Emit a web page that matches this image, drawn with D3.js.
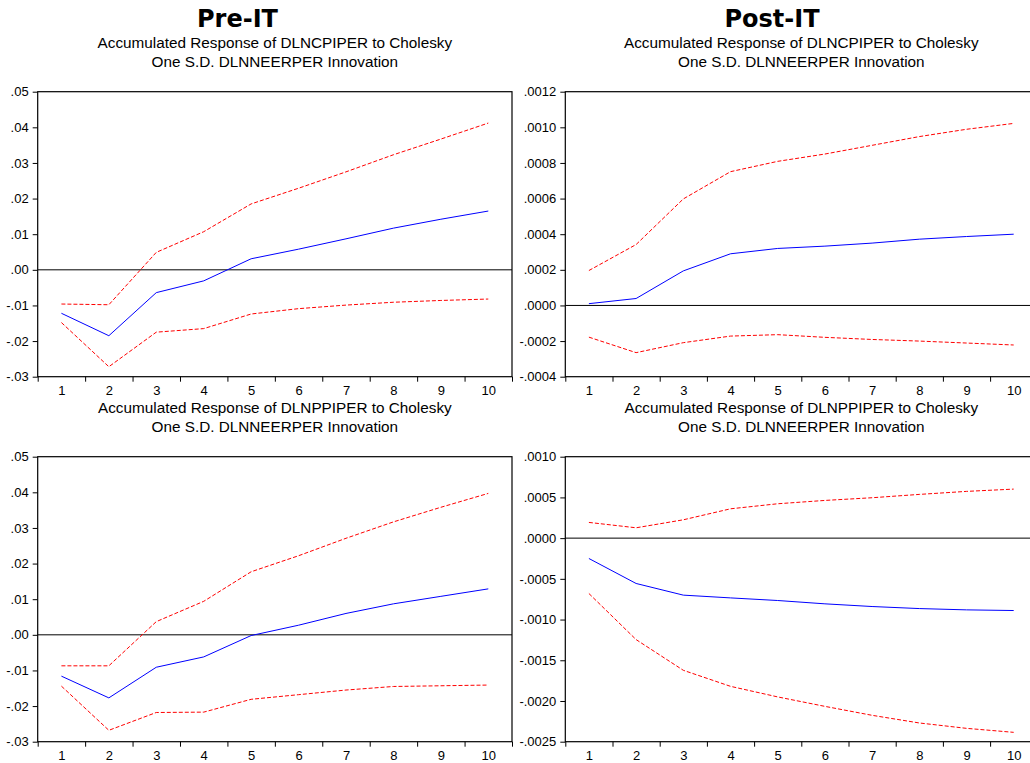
<!DOCTYPE html>
<html>
<head>
<meta charset="utf-8">
<script src="https://cdn.jsdelivr.net/npm/d3@7/dist/d3.min.js"></script>
<style>
  body { margin: 0; background: #ffffff; }
  svg { display: block; font-family: "Liberation Sans", Arial, sans-serif; }
</style>
</head>
<body>
<div id="irf"></div>
<script>
// Horizon (periods after the shock)
const periods = [1, 2, 3, 4, 5, 6, 7, 8, 9, 10];

// Pre-IT, response of DLNCPIPER
const preCpiResponse = [-0.0122, -0.0185, -0.0064, -0.0031, 0.0031, 0.0058, 0.0087, 0.0117, 0.0142, 0.0165];
const preCpiUpper    = [-0.0096, -0.0098, 0.0049, 0.0107, 0.0185, 0.0229, 0.0275, 0.0323, 0.0367, 0.0412];
const preCpiLower    = [-0.0148, -0.0272, -0.0175, -0.0165, -0.0124, -0.0109, -0.0099, -0.0091, -0.0086, -0.0082];

// Pre-IT, response of DLNPPIPER
const prePpiResponse = [-0.0116, -0.0177, -0.0091, -0.0062, -0.0002, 0.0027, 0.0060, 0.0087, 0.0108, 0.0129];
const prePpiUpper    = [-0.0087, -0.0087, 0.0037, 0.0094, 0.0177, 0.0222, 0.0271, 0.0317, 0.0358, 0.0397];
const prePpiLower    = [-0.0144, -0.0268, -0.0218, -0.0217, -0.0181, -0.0168, -0.0155, -0.0145, -0.0143, -0.0141];

// Post-IT, response of DLNCPIPER
const postCpiResponse = [0.00001, 0.000039, 0.000194, 0.00029, 0.00032, 0.000333, 0.00035, 0.000372, 0.000387, 0.0004];
const postCpiUpper    = [0.000196, 0.000342, 0.000598, 0.000751, 0.000809, 0.00085, 0.000899, 0.000948, 0.000989, 0.001022];
const postCpiLower    = [-0.000178, -0.000265, -0.000209, -0.000172, -0.000164, -0.000179, -0.000191, -0.0002, -0.000211, -0.000222];

// Post-IT, response of DLNPPIPER
const postPpiResponse = [-0.00025, -0.000557, -0.0007, -0.000734, -0.000766, -0.000807, -0.00084, -0.000865, -0.000881, -0.000889];
const postPpiUpper    = [0.000193, 0.000127, 0.000225, 0.00036, 0.000422, 0.000463, 0.000496, 0.000537, 0.000574, 0.000602];
const postPpiLower    = [-0.00068, -0.001246, -0.001623, -0.00182, -0.00195, -0.002066, -0.002176, -0.00227, -0.002336, -0.002385];

// Y tick labels
const preTicks     = [-0.03, -0.02, -0.01, 0.00, 0.01, 0.02, 0.03, 0.04, 0.05];
const postCpiTicks = [-0.0004, -0.0002, 0.0000, 0.0002, 0.0004, 0.0006, 0.0008, 0.0010, 0.0012];
const postPpiTicks = [-0.0025, -0.0020, -0.0015, -0.0010, -0.0005, 0.0000, 0.0005, 0.0010];

// Titles
const columnTitles = ["Pre-IT", "Post-IT"];
const cpiTitle = ["Accumulated Response of DLNCPIPER to Cholesky", "One S.D. DLNNEERPER Innovation"];
const ppiTitle = ["Accumulated Response of DLNPPIPER to Cholesky", "One S.D. DLNNEERPER Innovation"];


const width = 1030;
const height = 763;

const svg = d3.select("#irf")
  .append("svg")
    .attr("width", width)
    .attr("height", height)
    .attr("viewBox", `0, 0, ${width}, ${height}`);

// strip the leading zero the way EViews prints it (.05, -.03)
const eviewsFormat = digits => v => v.toFixed(digits).replace("0.", ".");

const drawPanel = (p) => {

  /****************************/
  /*    Declare the scales    */
  /****************************/
  const xScale = d3.scaleLinear()
    .domain([0.5, 10.5])
    .range([p.left, p.left + p.width]);

  const yScale = d3.scaleLinear()
    .domain([p.ticks[0], p.ticks[p.ticks.length - 1]])
    .range([p.top + p.height, p.top]);


  /***************************/
  /*        Subtitle         */
  /***************************/
  svg
    .append("g")
    .selectAll("text")
    .data(p.title)
    .join("text")
      .text(d => d)
      .attr("text-anchor", "middle")
      .attr("x", p.left + p.width / 2)
      .attr("y", (d, i) => p.top - 43.5 + i * 18.5)
      .style("font-size", "15.3px")
      .style("fill", "#000");


  /***************************/
  /*     Append the axes     */
  /***************************/
  // Left axis
  const leftAxis = d3.axisLeft(yScale)
    .tickValues(p.ticks)
    .tickFormat(p.format)
    .tickSize(5)
    .tickPadding(4);
  const gy = svg
    .append("g")
      .attr("transform", `translate(${p.left}, 0)`)
      .call(leftAxis);
  gy.select(".domain").remove();

  // Bottom axis: tick marks between periods
  const tickAxis = d3.axisBottom(xScale)
    .tickValues(d3.range(0.5, 11, 1))
    .tickFormat("")
    .tickSize(5);
  const gx = svg
    .append("g")
      .attr("transform", `translate(0, ${p.top + p.height})`)
      .call(tickAxis);
  gx.select(".domain").remove();

  // Bottom axis: period labels
  const labelAxis = d3.axisBottom(xScale)
    .tickValues(periods)
    .tickSize(0)
    .tickPadding(9.5);
  const gl = svg
    .append("g")
      .attr("transform", `translate(0, ${p.top + p.height})`)
      .call(labelAxis);
  gl.select(".domain").remove();

  svg.selectAll(".tick text")
    .style("font-size", "13px")
    .style("font-family", "'Liberation Sans', Arial, sans-serif")
    .attr("fill", "#000");
  svg.selectAll(".tick line")
    .attr("stroke", "#000");

  // Zero line
  svg
    .append("line")
      .attr("x1", p.left)
      .attr("x2", p.left + p.width)
      .attr("y1", yScale(0))
      .attr("y2", yScale(0))
      .attr("stroke", "#000")
      .attr("stroke-width", 1);


  /******************************/
  /*      Append the lines      */
  /******************************/
  const lineGenerator = d3.line()
    .x((d, i) => xScale(periods[i]))
    .y(d => yScale(d));

  svg
    .append("path")
      .attr("d", lineGenerator(p.upper))
      .attr("fill", "none")
      .attr("stroke", "#ff0000")
      .attr("stroke-width", 1)
      .attr("stroke-dasharray", "4,2");
  svg
    .append("path")
      .attr("d", lineGenerator(p.lower))
      .attr("fill", "none")
      .attr("stroke", "#ff0000")
      .attr("stroke-width", 1)
      .attr("stroke-dasharray", "4,2");
  svg
    .append("path")
      .attr("d", lineGenerator(p.response))
      .attr("fill", "none")
      .attr("stroke", "#0000ff")
      .attr("stroke-width", 1);

  // Frame
  svg
    .append("rect")
      .attr("x", p.left)
      .attr("y", p.top)
      .attr("width", p.width)
      .attr("height", p.height)
      .attr("fill", "none")
      .attr("stroke", "#000")
      .attr("stroke-width", 1.2);
};


/*******************************/
/*     Column titles           */
/*******************************/
svg
  .selectAll(".column-title")
  .data(columnTitles)
  .join("text")
    .attr("class", "column-title")
    .text(d => d)
    .attr("text-anchor", "middle")
    .attr("x", (d, i) => [237.5, 772][i])
    .attr("y", 27)
    .style("font-family", "'DejaVu Sans', Verdana, sans-serif")
    .style("font-weight", "bold")
    .style("font-size", "24px");


/*******************************/
/*       Draw the panels       */
/*******************************/
const leftX = 37.7, rightX = 565.3;
const topY = 91.7, bottomY = 456.7;
const panelHeight = 285;

drawPanel({ left: leftX, top: topY, width: 474.3, height: panelHeight,
  ticks: preTicks, format: eviewsFormat(2), title: cpiTitle,
  response: preCpiResponse, upper: preCpiUpper, lower: preCpiLower });

drawPanel({ left: rightX, top: topY, width: 472, height: panelHeight,
  ticks: postCpiTicks, format: eviewsFormat(4), title: cpiTitle,
  response: postCpiResponse, upper: postCpiUpper, lower: postCpiLower });

drawPanel({ left: leftX, top: bottomY, width: 474.3, height: panelHeight,
  ticks: preTicks, format: eviewsFormat(2), title: ppiTitle,
  response: prePpiResponse, upper: prePpiUpper, lower: prePpiLower });

drawPanel({ left: rightX, top: bottomY, width: 472, height: panelHeight,
  ticks: postPpiTicks, format: eviewsFormat(4), title: ppiTitle,
  response: postPpiResponse, upper: postPpiUpper, lower: postPpiLower });
</script>
</body>
</html>
